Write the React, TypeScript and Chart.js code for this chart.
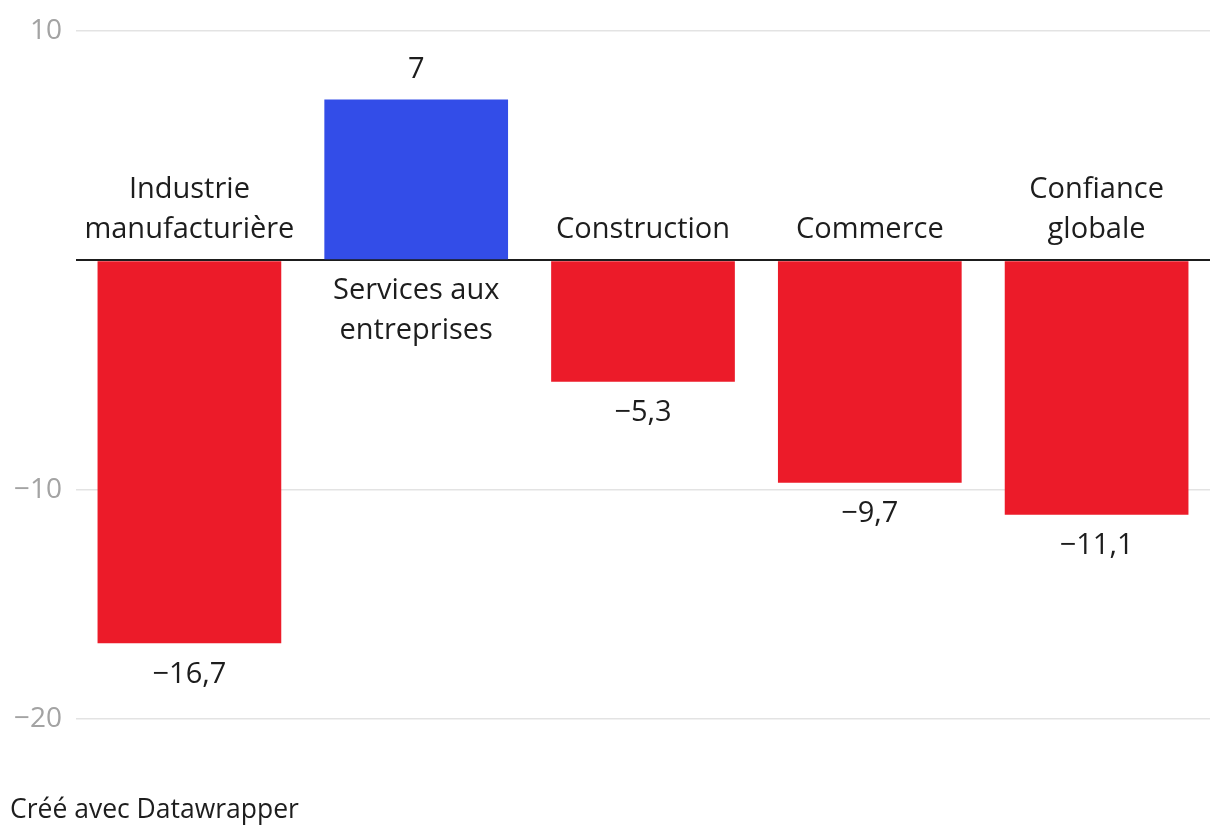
import React, { useEffect, useRef } from "react";
import { Chart, registerables } from "chart.js";

Chart.register(...registerables);

const categories: string[][] = [
  ["Industrie", "manufacturière"],
  ["Services aux", "entreprises"],
  ["Construction"],
  ["Commerce"],
  ["Confiance", "globale"],
];
const values: number[] = [-16.7, 7, -5.3, -9.7, -11.1];
const valueLabels: string[] = ["−16,7", "7", "−5,3", "−9,7", "−11,1"];
const yTicks: number[] = [10, 0, -10, -20];

const RED = "#ec1b29";
const BLUE = "#334de8";
const TEXT = "#1d1d1d";
const FONT = "'Open Sans', 'Noto Sans', sans-serif";

const labelPlugin = {
  id: "barLabels",
  afterDatasetsDraw(chart: any) {
    const ctx = chart.ctx;
    const meta = chart.getDatasetMeta(0);
    const zeroY = chart.scales.y.getPixelForValue(0);
    ctx.save();
    ctx.fillStyle = TEXT;
    ctx.font = `29px ${FONT}`;
    ctx.textAlign = "center";
    ctx.textBaseline = "middle";
    meta.data.forEach((bar: any, i: number) => {
      const v = values[i];
      const x = bar.x;
      const lines = categories[i];
      if (v < 0) {
        lines.forEach((ln, j) => {
          const y = zeroY - 30 - (lines.length - 1 - j) * 40;
          ctx.fillText(ln, x, y);
        });
        ctx.fillText(valueLabels[i], x, bar.y + 31);
      } else {
        lines.forEach((ln, j) => {
          ctx.fillText(ln, x, zeroY + 31 + j * 40);
        });
        ctx.fillText(valueLabels[i], x, bar.y - 30);
      }
    });
    ctx.restore();
  },
};

export default function App() {
  const ref = useRef<HTMLCanvasElement | null>(null);
  useEffect(() => {
    document.body.style.margin = "0";
    const chart = new Chart(ref.current as HTMLCanvasElement, {
      type: "bar",
      data: {
        labels: categories.map((c) => c.join(" ")),
        datasets: [
          {
            data: values,
            backgroundColor: values.map((v) => (v < 0 ? RED : BLUE)),
            borderWidth: 0,
            barPercentage: 0.81,
            categoryPercentage: 1,
          },
        ],
      },
      options: {
        responsive: false,
        animation: false,
        devicePixelRatio: 1,
        layout: { padding: { left: 0, right: 10, top: 27, bottom: 117 } },
        plugins: { legend: { display: false }, tooltip: { enabled: false } },
        scales: {
          x: { display: false },
          y: {
            min: -20,
            max: 10,
            afterFit: (s: any) => {
              s.width = 76;
            },
            afterBuildTicks: (s: any) => {
              s.ticks = yTicks.map((v) => ({ value: v }));
            },
            border: { display: false },
            grid: {
              drawTicks: false,
              color: (c: any) => (c.tick && c.tick.value === 0 ? TEXT : "#e3e3e3"),
              lineWidth: (c: any) => (c.tick && c.tick.value === 0 ? 2 : 1.5),
            },
            ticks: {
              padding: 14,
              color: "#a3a3a3",
              font: { family: FONT, size: 28 },
              callback: (v: any) =>
                v === 0 ? "" : v < 0 ? "−" + Math.abs(v) : String(v),
            },
          },
        },
      },
      plugins: [labelPlugin],
    });
    return () => chart.destroy();
  }, []);
  return (
    <div style={{ position: "relative", width: 1220, height: 836 }}>
      <canvas ref={ref} width={1220} height={836} />
      <div
        style={{
          position: "absolute",
          left: 10,
          top: 793,
          fontFamily: FONT,
          fontSize: 26.5,
          lineHeight: "30px",
          color: TEXT,
        }}
      >
        Créé avec Datawrapper
      </div>
    </div>
  );
}
